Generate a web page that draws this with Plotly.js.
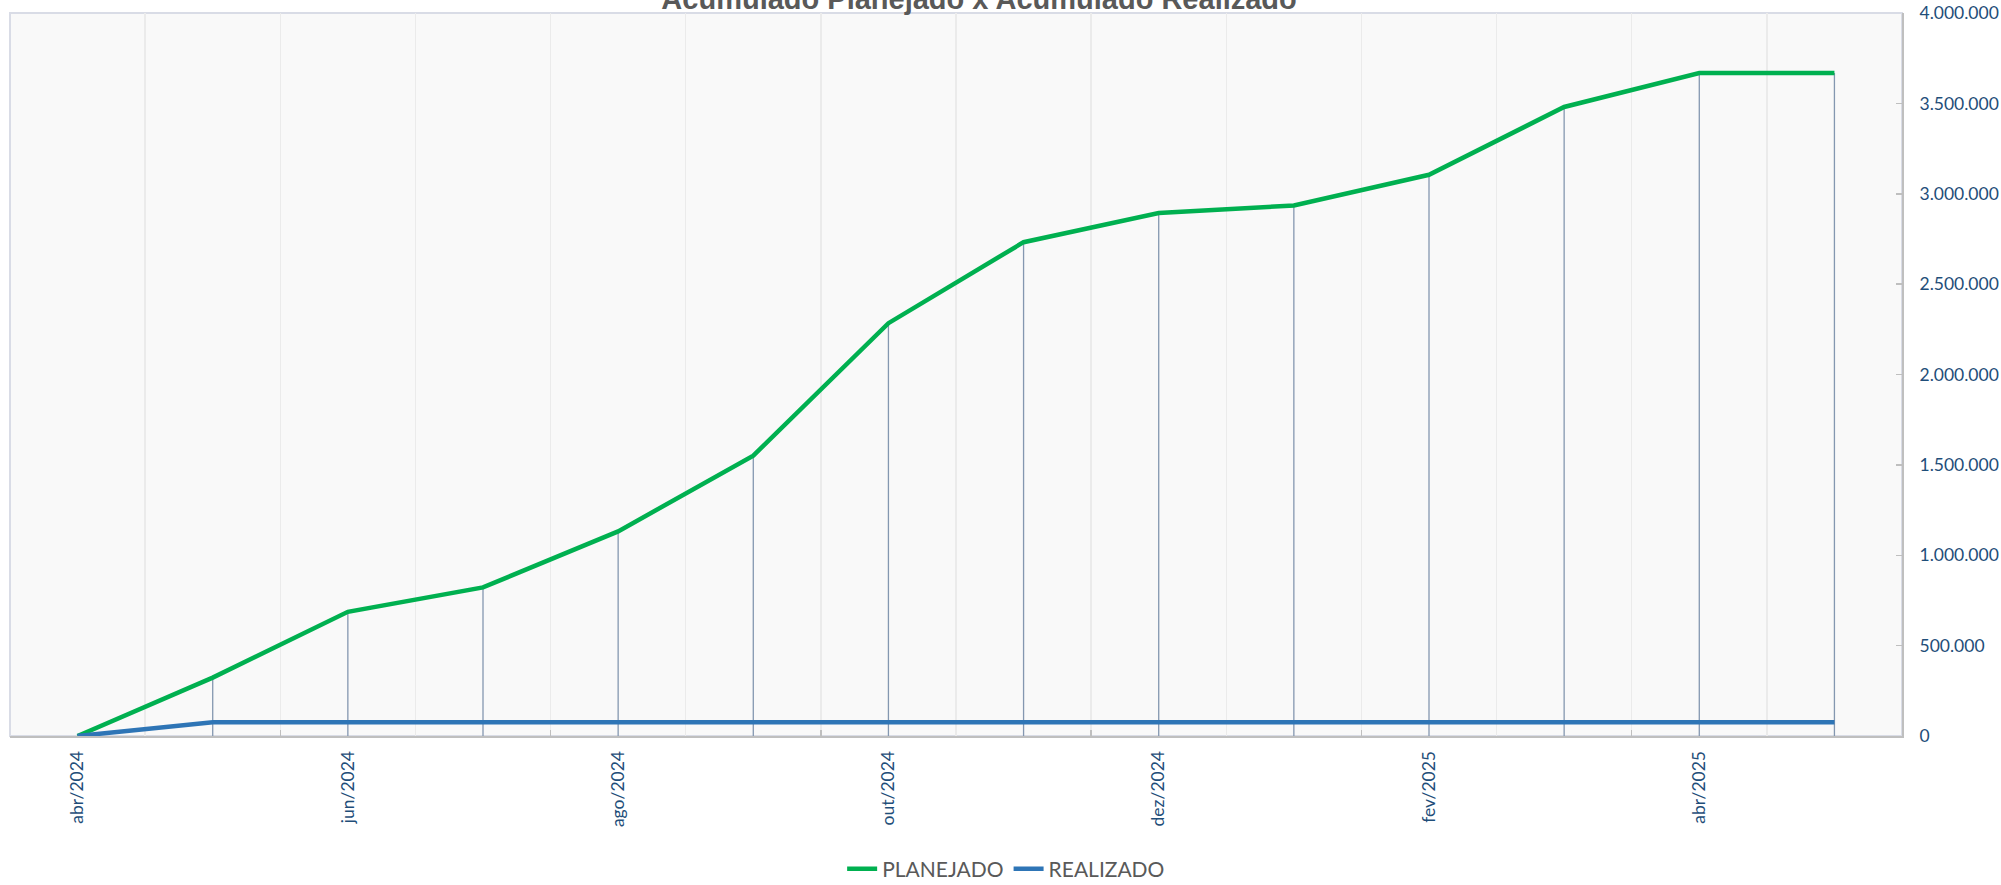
<!DOCTYPE html>
<html>
<head>
<meta charset="utf-8">
<script src="https://cdn.plot.ly/plotly-3.0.1.min.js"></script>
<style>
  html, body { margin: 0; padding: 0; background: #ffffff; }
  #chart { width: 2001px; height: 885px; }
</style>
</head>
<body>
<div id="chart"></div>
<script>
// ---- data ----
var months = ["abr/2024","mai/2024","jun/2024","jul/2024","ago/2024","set/2024","out/2024",
              "nov/2024","dez/2024","jan/2025","fev/2025","mar/2025","abr/2025","mai/2025"];
var planejado = [0, 323000, 687000, 822000, 1132000, 1551000, 2284000,
                 2732000, 2893000, 2935000, 3105000, 3480000, 3668000, 3668000];
var realizado = [0, 76000, 76000, 76000, 76000, 76000, 76000,
                 76000, 76000, 76000, 76000, 76000, 76000, 76000];
var yTicks = [0, 500000, 1000000, 1500000, 2000000, 2500000, 3000000, 3500000, 4000000];

// ---- build ----
var idx = months.map(function(_, i){ return i; });
var labelIdx = idx.filter(function(i){ return i % 2 === 0; });
var labelText = labelIdx.map(function(i){ return months[i]; });

// drop lines from the highest point down to the axis
var dropX = [], dropY = [];
idx.forEach(function(i){
  var top = Math.max(planejado[i], realizado[i]);
  dropX.push(i, i, null);
  dropY.push(0, top, null);
});

var tickFont = { family: "Lato, 'Noto Sans', sans-serif", size: 17.5, color: "#1f4e79" };

var traces = [
  { x: dropX, y: dropY, mode: "lines", line: { color: "#8497b0", width: 1.3 },
    hoverinfo: "skip", showlegend: false },
  { x: idx, y: planejado, name: "PLANEJADO", mode: "lines",
    line: { color: "#00b050", width: 4.5 } },
  { x: idx, y: realizado, name: "REALIZADO", mode: "lines",
    line: { color: "#2e75b6", width: 4.5 } },
  { x: [idx[0]], y: [0], xaxis: "x2", mode: "markers", marker: { opacity: 0 },
    hoverinfo: "skip", showlegend: false }
];

var n = months.length;
var layout = {
  width: 2001, height: 885,
  paper_bgcolor: "#ffffff",
  plot_bgcolor: "#f9f9f9",
  separators: ",.",
  margin: { l: 10, r: 99, t: 13, b: 149, autoexpand: false },
  title: {
    text: "Acumulado Planejado x Acumulado Realizado",
    font: { family: "'Liberation Sans', Arial, sans-serif", size: 29, color: "#595959", weight: "bold" },
    xref: "container", x: 0.4893, xanchor: "center",
    yref: "container", y: 1 - 9 / 885, yanchor: "bottom"
  },
  xaxis: {
    range: [-0.5, n - 0.5],
    tickmode: "array", tickvals: labelIdx, ticktext: labelText,
    tickangle: -90, tickfont: tickFont,
    ticks: "", showgrid: false, zeroline: false,
    showline: true, linecolor: "#bfbfbf", linewidth: 2,
    ticklabelstandoff: 6, automargin: false,
    fixedrange: true
  },
  xaxis2: {
    overlaying: "x", side: "bottom",
    range: [-0.5, n - 0.5],
    tickmode: "linear", tick0: -0.5, dtick: 2,
    ticks: "inside", ticklen: 6, tickcolor: "#bfbfbf", tickwidth: 1.5,
    showticklabels: false,
    showgrid: true, gridcolor: "#ebebeb", gridwidth: 1.3,
    minor: { tick0: -0.5, dtick: 1, showgrid: true, gridcolor: "#ebebeb", gridwidth: 1.3, ticks: "" },
    zeroline: false, showline: false, automargin: false
  },
  yaxis: {
    side: "right",
    range: [0, 4000000],
    tickmode: "array", tickvals: yTicks,
    tickformat: ",d",
    tickfont: tickFont,
    ticks: "inside", ticklen: 6, tickcolor: "#bfbfbf", tickwidth: 1.5,
    showgrid: false, zeroline: false,
    showline: true, linecolor: "#bfbfbf", linewidth: 2,
    ticklabelstandoff: 12, automargin: false,
    fixedrange: true
  },
  shapes: [
    { type: "rect", xref: "paper", yref: "paper", x0: 0, x1: 1, y0: 0, y1: 1,
      line: { color: "#d9dce6", width: 2 }, fillcolor: "rgba(0,0,0,0)", layer: "below" }
  ],
  showlegend: true,
  legend: {
    orientation: "h",
    x: 0.5265, xanchor: "center",
    y: -0.184, yanchor: "middle",
    font: { family: "Lato, 'Noto Sans', sans-serif", size: 21, color: "#595959" },
    bgcolor: "rgba(0,0,0,0)",
    itemwidth: 30
  }
};

Plotly.newPlot("chart", traces, layout, { displayModeBar: false, staticPlot: true });
</script>
</body>
</html>
